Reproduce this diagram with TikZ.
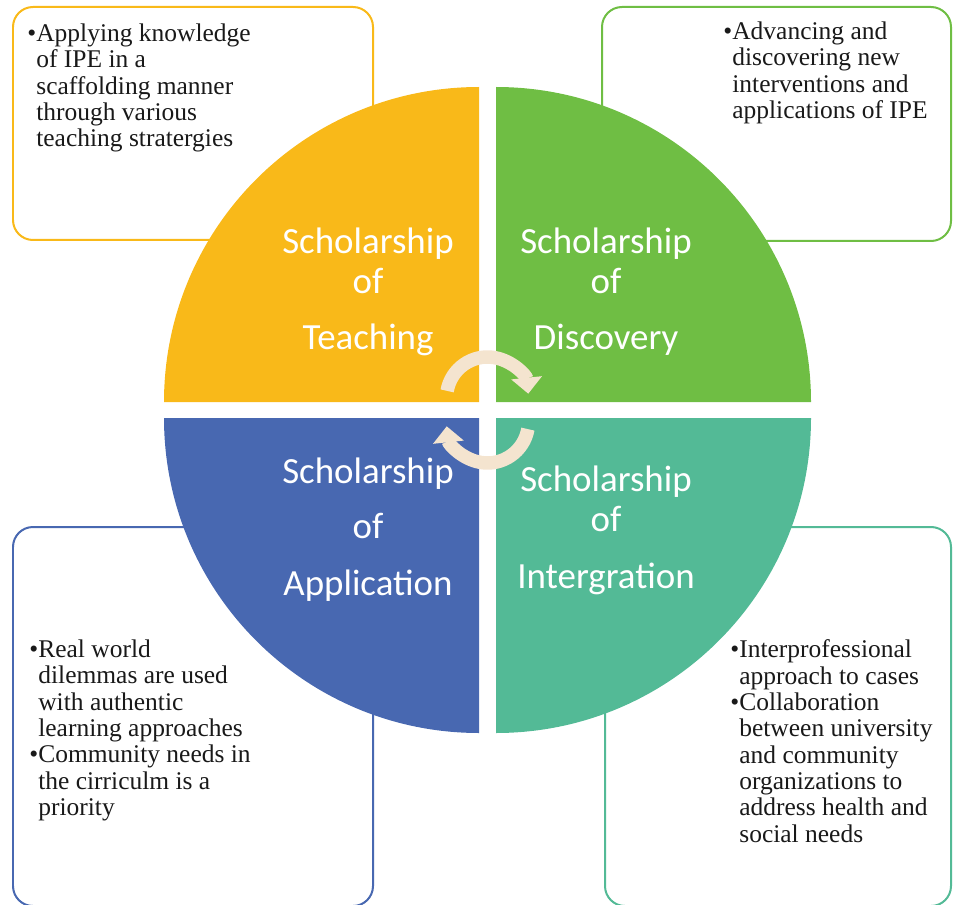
\documentclass[tikz,border=0pt]{standalone}
\usepackage{fontspec}
\setmainfont{Liberation Serif}
\newfontfamily\quadfont{Carlito}
\usetikzlibrary{arrows.meta,calc}

\definecolor{teachcol}{HTML}{F9B919}
\definecolor{disccol}{HTML}{6FBE44}
\definecolor{applcol}{HTML}{4868B1}
\definecolor{integcol}{HTML}{53BA96}
\definecolor{arrowcol}{HTML}{F4E4CF}

\tikzset{
    box/.style={line width=0.04cm, rounded corners=0.4cm},
    bullets/.style={anchor=north west, inner sep=0pt, align=left, text=black!90,
        font=\fontsize{14.5}{14.97}\selectfont},
    quadlabel/.style={anchor=north, inner sep=0pt, align=center, text=white,
        font=\quadfont\fontsize{21}{22.76}\selectfont},
    cycarrow/.style={draw=arrowcol, line width=0.27cm,
        -{Triangle[length=0.32cm, width=0.6cm]}}
}
\newcommand{\bul}{\makebox[0.18cm][l]{\textbullet}}
\newcommand{\ind}{\hspace*{0.18cm}}

\begin{document}
\begin{tikzpicture}[x=0.02cm, y=0.02cm]
    \useasboundingbox (0,0) rectangle (953,904);
    \def\r{315};

    % Draw the four text boxes behind the circle
    \draw[box, teachcol] (13,664) rectangle (373,897);
    \draw[box, disccol] (602,663) rectangle (951,897);
    \draw[box, applcol] (13,-2) rectangle (373,377);
    \draw[box, integcol] (605,-2) rectangle (951,377);

    % Draw the quarter discs, each one pushed out from the middle
    \fill[teachcol] (479,502) -- ++(-\r,0) arc[start angle=180, end angle=90, radius=\r] -- cycle;
    \fill[disccol] (496,502) -- ++(0,\r) arc[start angle=90, end angle=0, radius=\r] -- cycle;
    \fill[applcol] (479,486) -- ++(-\r,0) arc[start angle=180, end angle=270, radius=\r] -- cycle;
    \fill[integcol] (496,486) -- ++(0,-\r) arc[start angle=270, end angle=360, radius=\r] -- cycle;

    % Names of the quarters
    \node[quadlabel] (teach) at (368,676.5) {Scholarship\\of\\[0.32cm]Teaching};
    \node[quadlabel] (disc) at (606,676.5) {Scholarship\\of\\[0.32cm]Discovery};
    \node[quadlabel] (appl) at (368,446.5) {Scholarship\\[0.3cm]of\\[0.34cm]Application};
    \node[quadlabel] (integ) at (606,438.5) {Scholarship\\of\\[0.34cm]Intergration};

    % Draw the two round arrows in the middle
    \coordinate (topc) at (487.5,506);
    \coordinate (botc) at (487.5,482);
    \draw[cycarrow] ($(topc)+(170:41)$) arc[start angle=170, end angle=6, radius=41];
    \draw[cycarrow] ($(botc)+(-10:41)$) arc[start angle=-10, end angle=-174, radius=41];

    % Bullet texts in the boxes
    \node[bullets] (teachtxt) at (27,880.5) {\bul Applying knowledge\\\ind of IPE in a\\\ind scaffolding manner\\\ind through various\\\ind teaching stratergies};
    \node[bullets] (disctxt) at (723,882.4) {\bul Advancing and\\\ind discovering new\\\ind interventions and\\\ind applications of IPE};
    \node[bullets] (appltxt) at (29,264.4) {\bul Real world\\\ind dilemmas are used\\\ind with authentic\\\ind learning approaches\\\bul Community needs in\\\ind the cirriculm is a\\\ind priority};
    \node[bullets] (integtxt) at (730,264.4) {\bul Interprofessional\\\ind approach to cases\\\bul Collaboration\\\ind between university\\\ind and community\\\ind organizations to\\\ind address health and\\\ind social needs};
\end{tikzpicture}
\end{document}
